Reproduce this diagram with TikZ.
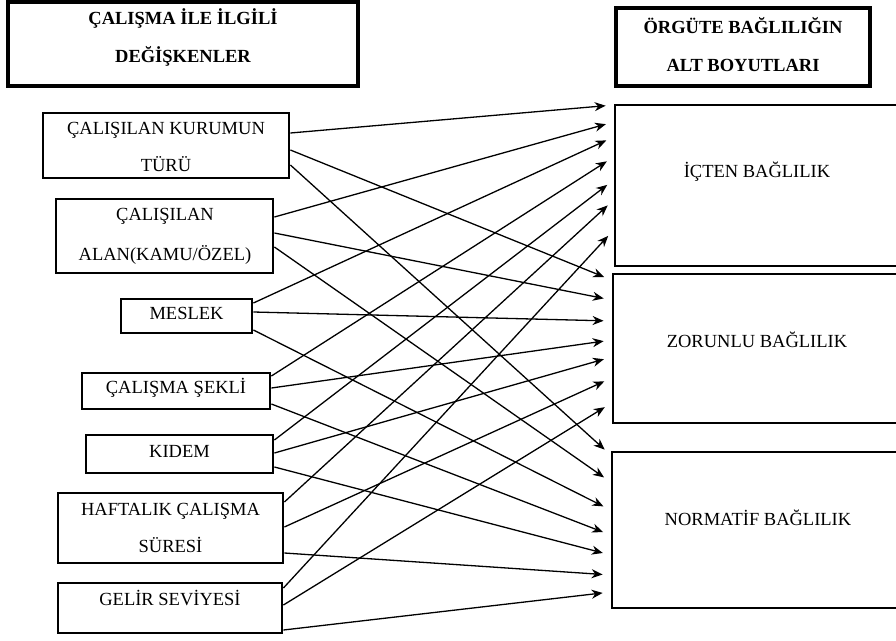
\documentclass[tikz,border=0pt]{standalone}
\usepackage{fontspec}
\setmainfont{Liberation Serif}
\usetikzlibrary{arrows.meta}
\begin{document}
\begin{tikzpicture}[x=1pt,y=-1pt,
  box/.style={draw, line width=2.8pt, inner sep=0pt},
  headbox/.style={draw, line width=3.2pt, inner sep=0pt},
  txt/.style={align=center, inner sep=0pt, font=\fontsize{18.5}{37}\selectfont},
  headtxt/.style={align=center, inner sep=0pt, font=\bfseries\fontsize{18.5}{38}\selectfont},
  arr/.style={-{Stealth[length=11pt,width=9pt,inset=3.5pt]}, line width=1.3pt, shorten >=8pt}]
\useasboundingbox (0,0) rectangle (896,640);
\clip (0,0) rectangle (896,640);
% header boxes
\node[headbox, minimum width=350, minimum height=84] (hl) at (183,44) {};
\node[headtxt] (hlt) at (183,37) {ÇALIŞMA İLE İLGİLİ\\DEĞİŞKENLER};
\node[headbox, minimum width=254, minimum height=78] (hr) at (743,47) {};
\node[headtxt] (hrt) at (743,45) {ÖRGÜTE BAĞLILIĞIN\\ALT BOYUTLARI};
% left boxes
\node[box, minimum width=246, minimum height=65] (kurum) at (166,145.5) {};
\node[txt] (kurumt) at (166,147) {ÇALIŞILAN KURUMUN\\TÜRÜ};
\node[box, minimum width=217, minimum height=74] (alan) at (164.5,236) {};
\node[txt, font=\fontsize{18.5}{40}\selectfont] (alant) at (165,236) {ÇALIŞILAN\\ALAN(KAMU/ÖZEL)};
\node[box, minimum width=131, minimum height=34] (meslek) at (186.5,316) {};
\node[txt] (meslekt) at (186.5,313) {MESLEK};
\node[box, minimum width=188, minimum height=36] (sekli) at (176,391) {};
\node[txt] (seklit) at (176,388) {ÇALIŞMA ŞEKLİ};
\node[box, minimum width=187, minimum height=38] (kidem) at (179.5,454) {};
\node[txt] (kidemt) at (179.5,451) {KIDEM};
\node[box, minimum width=225, minimum height=70] (haft) at (170.5,528) {};
\node[txt] (haftt) at (170.5,528) {HAFTALIK ÇALIŞMA\\SÜRESİ};
\node[box, minimum width=224, minimum height=50] (gelir) at (170,608) {};
\node[txt] (gelirt) at (170,598) {GELİR SEVİYESİ};
% right boxes
\node[box, minimum width=290, minimum height=161] (icten) at (760,185.5) {};
\node[txt] (ictent) at (757,172) {İÇTEN BAĞLILIK};
\node[box, minimum width=292, minimum height=149] (zor) at (759,348.5) {};
\node[txt] (zort) at (757,340) {ZORUNLU BAĞLILIK};
\node[box, minimum width=293, minimum height=156] (norm) at (758.5,530) {};
\node[txt] (normt) at (758,518) {NORMATİF BAĞLILIK};
% arrows
\draw[arr] (kurum.east |- 0,133) -- (icten.west |- 0,105);
\draw[arr] (kurum.east |- 0,150) -- (zor.west |- 0,280);
\draw[arr] (kurum.east |- 0,165) -- (norm.west |- 0,455);
\draw[arr] (alan.east |- 0,217) -- (icten.west |- 0,122);
\draw[arr] (alan.east |- 0,233) -- (zor.west |- 0,300);
\draw[arr] (alan.east |- 0,247) -- (norm.west |- 0,482);
\draw[arr] (meslek.east |- 0,303) -- (icten.west |- 0,137);
\draw[arr] (meslek.east |- 0,312) -- (zor.west |- 0,321);
\draw[arr] (meslek.east |- 0,330) -- (norm.west |- 0,510);
\draw[arr] (sekli.east |- 0,376) -- (icten.west |- 0,157);
\draw[arr] (sekli.east |- 0,388) -- (zor.west |- 0,340);
\draw[arr] (sekli.east |- 0,404) -- (norm.west |- 0,535);
\draw[arr] (kidem.east |- 0,440) -- (icten.west |- 0,180);
\draw[arr] (kidem.east |- 0,453) -- (zor.west |- 0,357);
\draw[arr] (kidem.east |- 0,467) -- (norm.west |- 0,555);
\draw[arr] (haft.east |- 0,502) -- (icten.west |- 0,200);
\draw[arr] (haft.east |- 0,527) -- (zor.west |- 0,378);
\draw[arr] (haft.east |- 0,553) -- (norm.west |- 0,575);
\draw[arr] (gelir.east |- 0,588) -- (icten.west |- 0,230);
\draw[arr] (gelir.east |- 0,605) -- (zor.west |- 0,403);
\draw[arr] (gelir.east |- 0,630) -- (norm.west |- 0,592);
\end{tikzpicture}
\end{document}
